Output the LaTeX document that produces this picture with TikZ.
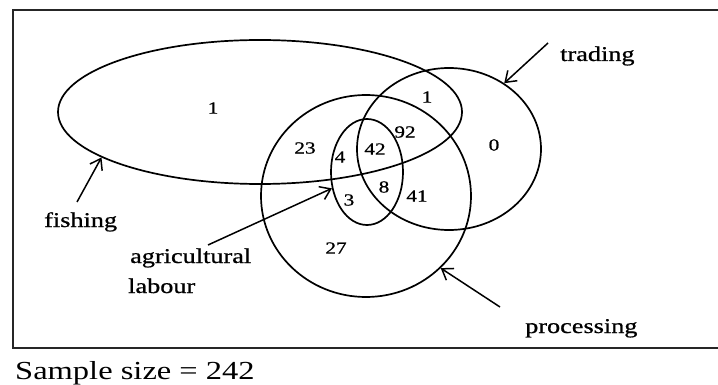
\documentclass[tikz,border=0pt]{standalone}
\usepackage{fontspec}
\setmainfont{Liberation Serif}
\newfontfamily\widefont[FakeStretch=1.25,FakeBold=0.8]{Liberation Serif}
\newfontfamily\samplefont[FakeStretch=1.25]{Liberation Serif}
\usetikzlibrary{shapes.geometric,arrows.meta}
\begin{document}
\begin{tikzpicture}[x=1pt,y=-1pt,
  setline/.style={draw, ellipse, line width=1.7pt, inner sep=0pt},
  num/.style={font=\widefont\fontsize{17}{17}\selectfont, inner sep=0pt},
  lab/.style={font=\widefont\fontsize{21}{21}\selectfont, inner sep=0pt, anchor=base west},
  pointer/.style={line width=1.5pt, -{Straight Barb[length=10pt,width=14pt,line width=1.5pt]}}
]
\useasboundingbox (0,0) rectangle (718,385);
% frame
\draw[line width=2pt, black!85] (720,10) -- (13,10) -- (13,348) -- (720,348);
% sets
\node[setline, minimum width=404pt, minimum height=144pt] (fish) at (260,112) {};
\node[setline, minimum width=184pt, minimum height=162pt] (trade) at (449,149) {};
\node[setline, minimum width=210pt, minimum height=202pt] (proc) at (366,196) {};
\node[setline, minimum width=72pt, minimum height=106pt] (agri) at (367,172) {};
% numbers
\node[num] (n1) at (213,108) {1};
\node[num] (n2) at (427,97) {1};
\node[num] (n3) at (405,132) {92};
\node[num] (n4) at (494,145) {0};
\node[num] (n5) at (305,148) {23};
\node[num] (n6) at (340,157) {4};
\node[num] (n7) at (375,149) {42};
\node[num] (n8) at (384,187) {8};
\node[num] (n9) at (417,196) {41};
\node[num] (n10) at (349,200) {3};
\node[num] (n11) at (336,248) {27};
% labels
\node[lab] (ltrade) at (560,61) {trading};
\node[lab] (lfish) at (44,227) {fishing};
\node[lab] (lagri) at (130,263) {agricultural};
\node[lab] (llab) at (128,293) {labour};
\node[lab] (lproc) at (525,333) {processing};
\node[font=\samplefont\fontsize{26}{26}\selectfont, inner sep=0pt, anchor=base west] (sample) at (15,379) {Sample size = 242};
% arrows
\coordinate (ttail) at (548,43);
\coordinate (ftail) at (77,202);
\coordinate (atail) at (208,245);
\coordinate (ptail) at (500,307);
\draw[pointer] (ttail) -- (trade.50);
\draw[pointer] (ftail) -- (fish.196);
\draw[pointer] (atail) -- (agri.205);
\draw[pointer] (ptail) -- (proc.316);
\end{tikzpicture}
\end{document}
